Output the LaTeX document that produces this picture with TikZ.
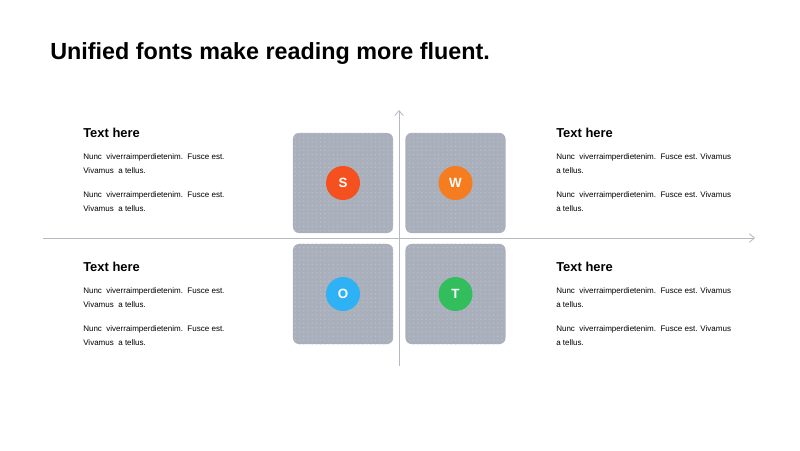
\documentclass[tikz,border=0pt]{standalone}
\usepackage{fontspec}
\setmainfont{Liberation Sans}
\usetikzlibrary{arrows.meta,patterns}
\definecolor{qred}{HTML}{F4511E}
\definecolor{qorange}{HTML}{F57C1F}
\definecolor{qblue}{HTML}{2EB1F5}
\definecolor{qgreen}{HTML}{33BE5E}
\definecolor{qtile}{HTML}{A9B0BC}
\definecolor{qdots}{HTML}{BCC2CC}
\definecolor{qaxis}{HTML}{B5B9C1}

\begin{document}
\begin{tikzpicture}[x=0.025cm,y=-0.025cm,
    tile/.style={rounded corners=6*0.025cm, minimum width=2.5cm, minimum height=2.5cm, fill=qtile, inner sep=0pt},
    badge/.style={circle, minimum size=0.85cm, inner sep=0pt, text=white, font=\fontsize{9.5}{11}\selectfont\bfseries},
    heading/.style={anchor=base west, inner sep=0pt, font=\fontsize{9.2}{11}\selectfont\bfseries},
    blurb/.style={anchor=north west, inner sep=0pt, align=left, font=\fontsize{5.7}{9.9}\selectfont}]
    \useasboundingbox (0,0) rectangle (800,450);

    % Title
    \node[anchor=base west, inner sep=0pt, font=\fontsize{16.6}{20}\selectfont\bfseries] (title) at (50,59) {Unified fonts make reading more fluent.};

    % Tiles
    \node[tile] (tS) at (343,183) {};
    \node[tile] (tW) at (455.5,183) {};
    \node[tile] (tO) at (343,294) {};
    \node[tile] (tT) at (455.5,294) {};
    \foreach \t in {tS,tW,tO,tT}
        \fill[pattern=dots, pattern color=qdots, rounded corners=6*0.025cm] (\t.south west) rectangle (\t.north east);

    % Axes
    \coordinate (xl) at (43,238);
    \coordinate (xr) at (755,238);
    \coordinate (yb) at (399,366);
    \coordinate (yt) at (399,110);
    \draw[qaxis, line width=0.6pt, -{Straight Barb[length=3.5pt,width=6pt]}] (xl) -- (xr);
    \draw[qaxis, line width=0.6pt, -{Straight Barb[length=3.5pt,width=6pt]}] (yb) -- (yt);

    % Badges
    \node[badge, fill=qred] (S) at (tS) {S};
    \node[badge, fill=qorange] (W) at (tW) {W};
    \node[badge, fill=qblue] (O) at (tO) {O};
    \node[badge, fill=qgreen] (T) at (tT) {T};

    % Text blocks
    \node[heading] (hS) at (83,137) {Text here};
    \node[blurb] (bS) at (83,153) {Nunc\ \ viverraimperdietenim.\ \ Fusce est.\\Vivamus\ \ a tellus.\\[7.8pt]Nunc\ \ viverraimperdietenim.\ \ Fusce est.\\Vivamus\ \ a tellus.};
    \node[heading] (hW) at (556,137) {Text here};
    \node[blurb] (bW) at (556,153) {Nunc\ \ viverraimperdietenim.\ \ Fusce est. Vivamus\\a tellus.\\[7.8pt]Nunc\ \ viverraimperdietenim.\ \ Fusce est. Vivamus\\a tellus.};
    \node[heading] (hO) at (83,271) {Text here};
    \node[blurb] (bO) at (83,287) {Nunc\ \ viverraimperdietenim.\ \ Fusce est.\\Vivamus\ \ a tellus.\\[7.8pt]Nunc\ \ viverraimperdietenim.\ \ Fusce est.\\Vivamus\ \ a tellus.};
    \node[heading] (hT) at (556,271) {Text here};
    \node[blurb] (bT) at (556,287) {Nunc\ \ viverraimperdietenim.\ \ Fusce est. Vivamus\\a tellus.\\[7.8pt]Nunc\ \ viverraimperdietenim.\ \ Fusce est. Vivamus\\a tellus.};
\end{tikzpicture}
\end{document}
